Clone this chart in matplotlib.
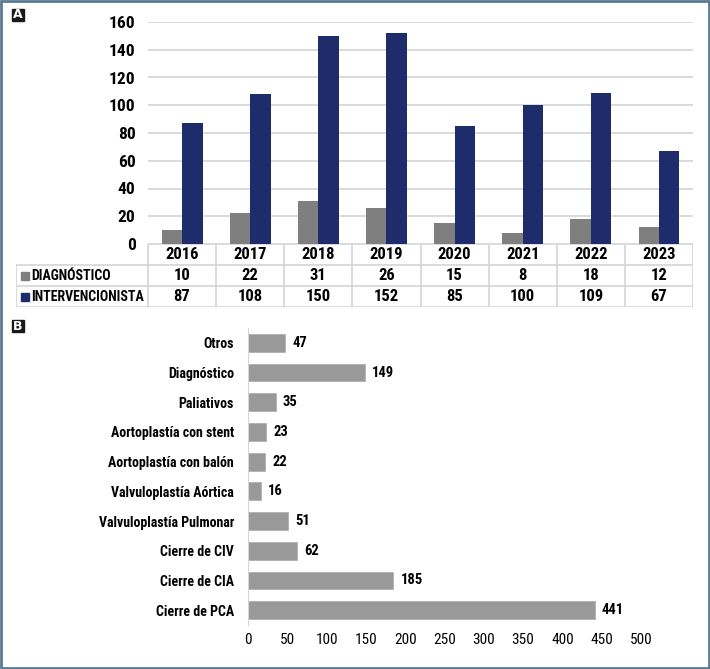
import numpy as np
import matplotlib
matplotlib.use("Agg")
import matplotlib.pyplot as plt
from matplotlib import font_manager
from matplotlib.patches import Rectangle

# pick the narrowest sans available
names = {f.name for f in font_manager.fontManager.ttflist}
stretch = "normal"
family = "DejaVu Sans"
for cand in ["Liberation Sans Narrow", "Arial Narrow", "Roboto Condensed",
             "Open Sans Condensed", "Noto Sans Display"]:
    if cand in names:
        family = cand
        break
else:
    if any(f.name == "DejaVu Sans" and f.stretch == "condensed" for f in font_manager.fontManager.ttflist):
        stretch = "condensed"

plt.rcParams["font.family"] = [family, "DejaVu Sans"]
plt.rcParams["font.weight"] = "bold"
plt.rcParams["font.stretch"] = stretch

# Panel A data
years = ["2016", "2017", "2018", "2019", "2020", "2021", "2022", "2023"]
diagnostico = [10, 22, 31, 26, 15, 8, 18, 12]
intervencionista = [87, 108, 150, 152, 85, 100, 109, 67]
series_labels = ["DIAGNÓSTICO", "INTERVENCIONISTA"]

# Panel B data (bottom to top)
procedimientos = ["Cierre de PCA", "Cierre de CIA", "Cierre de CIV",
                  "Valvuloplastía Pulmonar", "Valvuloplastía Aórtica",
                  "Aortoplastía con balón", "Aortoplastía con stent",
                  "Paliativos", "Diagnóstico", "Otros"]
casos = [441, 185, 62, 51, 16, 22, 23, 35, 149, 47]

W, H = 710, 669
gray = "#7f7f7f"
navy = "#1f2c6c"
line_col = "#d4d4d4"

fig = plt.figure(figsize=(W / 100, H / 100), dpi=100)
renderer = fig.canvas.get_renderer()


def px_axes(x0, y0, x1, y1):
    # pixel box (top-left origin) -> figure axes
    return fig.add_axes([x0 / W, 1 - y1 / H, (x1 - x0) / W, (y1 - y0) / H])


def fit(t, max_px):
    # shrink a text until it fits the width in pixels
    while t.get_window_extent(renderer).width > max_px and t.get_fontsize() > 5:
        t.set_fontsize(t.get_fontsize() - 0.25)


# ---------- Panel A: bars ----------
ax = px_axes(148, 22, 693, 244)
x = np.arange(len(years))
bw = 0.3
ax.bar(x - bw / 2, diagnostico, bw, color=gray, zorder=3)
ax.bar(x + bw / 2, intervencionista, bw, color=navy, zorder=3)
ax.set_xlim(-0.5, len(years) - 0.5)
ax.set_ylim(0, 160)
ax.set_yticks(range(0, 161, 20))
ax.set_xticks([])
ax.grid(axis="y", color=line_col, linewidth=1.2, zorder=0)
ax.tick_params(axis="y", length=0, pad=9, labelsize=12.5)
for s in ax.spines.values():
    s.set_visible(False)

# ---------- Panel A: data table ----------
tab = px_axes(16, 244, 693, 307)
tab.set_xlim(16, 693)
tab.set_ylim(307, 244)
tab.axis("off")
col_w = (693 - 148) / len(years)
rows_y = [244, 265, 286, 307]
lkw = dict(color=line_col, linewidth=1.2)
tab.plot([148, 693], [rows_y[0], rows_y[0]], **lkw)
for yy in rows_y[1:]:
    tab.plot([16, 693], [yy, yy], **lkw)
tab.plot([16, 16], [rows_y[1], rows_y[3]], **lkw)
for i in range(len(years) + 1):
    xx = 148 + i * col_w
    tab.plot([xx, xx], [rows_y[0], rows_y[3]], **lkw)

for i, yr in enumerate(years):
    cx = 148 + (i + 0.5) * col_w
    tab.text(cx, (rows_y[0] + rows_y[1]) / 2, yr, ha="center", va="center", fontsize=12)
    tab.text(cx, (rows_y[1] + rows_y[2]) / 2, str(diagnostico[i]), ha="center", va="center", fontsize=12)
    tab.text(cx, (rows_y[2] + rows_y[3]) / 2, str(intervencionista[i]), ha="center", va="center", fontsize=12)

row_texts = []
for r, (lab, c) in enumerate(zip(series_labels, [gray, navy])):
    cy = (rows_y[r + 1] + rows_y[r + 2]) / 2
    tab.add_patch(Rectangle((20.5, cy - 4), 8, 8, color=c))
    t = tab.text(31, cy, lab, ha="left", va="center", fontsize=11.5)
    fit(t, 113)
    row_texts.append(t)
size = min(t.get_fontsize() for t in row_texts)
for t in row_texts:
    t.set_fontsize(size)

# ---------- Panel B ----------
axb = px_axes(248, 328, 641 + 30, 625)
yb = np.arange(len(procedimientos))
axb.barh(yb, casos, height=0.6, color="#999999", edgecolor="#b0b0b0", linewidth=0.6)
axb.set_xlim(0, 500 * (641 + 30 - 248) / (641 - 248))
axb.set_ylim(-0.5, len(procedimientos) - 0.5)
axb.set_xticks(range(0, 501, 50))
axb.set_xticklabels([str(v) for v in range(0, 501, 50)], fontweight="normal", fontsize=11)
axb.set_yticks(yb)
axb.set_yticklabels(procedimientos, fontsize=10)
axb.tick_params(axis="x", length=0, pad=6)
axb.tick_params(axis="y", length=0, pad=10)
for s in ["top", "right", "bottom"]:
    axb.spines[s].set_visible(False)
axb.spines["left"].set_color(line_col)
for yy, v in zip(yb, casos):
    axb.text(v + 9, yy, str(v), va="center", ha="left", fontsize=10.5)
# keep the long labels inside the frame
for t in axb.get_yticklabels():
    fit(t, 205)

# ---------- Panel letters and frame ----------
for letter, top in [("A", 9), ("B", 320)]:
    fig.patches.append(Rectangle((12 / W, 1 - (top + 12) / H), 12 / W, 12 / H,
                                 transform=fig.transFigure, color="#1a1a1a"))
    fig.text(18 / W, 1 - (top + 6) / H, letter, color="white", ha="center", va="center",
             fontsize=9, family="DejaVu Sans")
fig.patches.append(Rectangle((0.001, 0.002), 0.997, 0.996, transform=fig.transFigure,
                             fill=False, edgecolor="#5a7a92", linewidth=2))

fig.savefig("out.png", dpi=100)
